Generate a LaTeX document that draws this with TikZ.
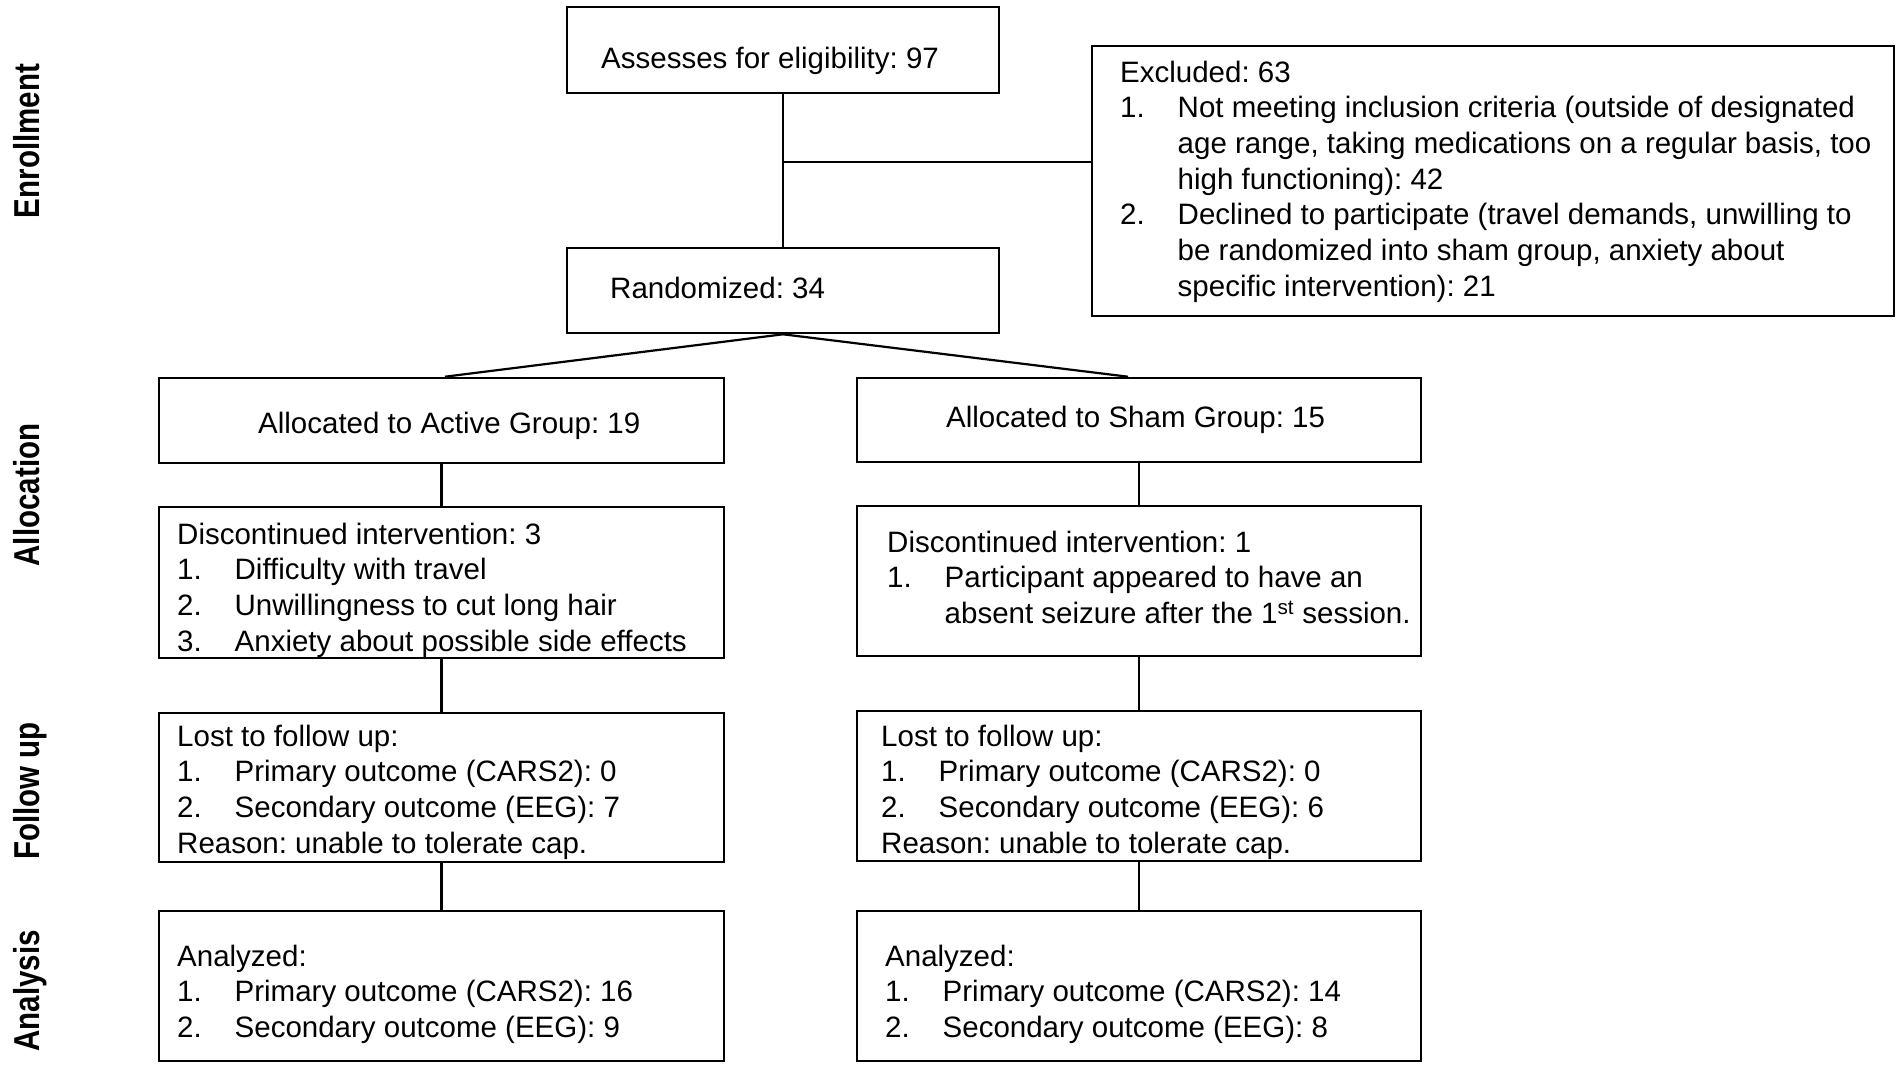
\documentclass[tikz,border=0pt]{standalone}
\usepackage{fontspec}
\setmainfont{Liberation Sans}
\frenchspacing
\newcommand{\itm}[2]{\makebox[57.5pt][l]{#1}#2}
\newcommand{\cnt}[1]{\hspace*{57.5pt}#1}
\begin{document}
\begin{tikzpicture}[x=1pt,y=-1pt,
  boxst/.style={draw, line width=2.6pt, rectangle, inner sep=0pt},
  txt/.style={font=\fontsize{29.5}{35.7}\selectfont\frenchspacing, inner sep=0pt, anchor=north west, align=left},
  conn/.style={line width=2.2pt},
  lbl/.style={font=\fontsize{29.5}{35}\selectfont\bfseries, inner sep=0pt, rotate=90, anchor=base}]
\useasboundingbox (0,0) rectangle (1901,1069);

% boxes
\node[boxst, minimum width=432pt, minimum height=86pt] (assess) at (783,50) {};
\node[boxst, minimum width=802pt, minimum height=270pt] (excl) at (1493,181) {};
\node[boxst, minimum width=432pt, minimum height=85pt] (rand) at (783,290.5) {};
\node[boxst, minimum width=565pt, minimum height=85pt] (active) at (441.5,420.5) {};
\node[boxst, minimum width=564pt, minimum height=84pt] (sham) at (1139,420) {};
\node[boxst, minimum width=565pt, minimum height=151pt] (discA) at (441.5,582.5) {};
\node[boxst, minimum width=564pt, minimum height=150pt] (discS) at (1139,581) {};
\node[boxst, minimum width=565pt, minimum height=149pt] (fuA) at (441.5,787.5) {};
\node[boxst, minimum width=564pt, minimum height=150pt] (fuS) at (1139,786) {};
\node[boxst, minimum width=565pt, minimum height=150pt] (anA) at (441.5,986) {};
\node[boxst, minimum width=564pt, minimum height=150pt] (anS) at (1139,986) {};

% texts
\node[txt] (tAssess) at (601,43) {\strut Assesses for eligibility: 97};
\node[txt] (tRand) at (610,273) {\strut Randomized: 34};
\node[txt] (tExcl) at (1120,57) {\strut Excluded: 63\\
\itm{1.}{Not meeting inclusion criteria (outside of designated}\\
\cnt{age range, taking medications on a regular basis, too}\\
\cnt{high functioning): 42}\\
\itm{2.}{Declined to participate (travel demands, unwilling to}\\
\cnt{be randomized into sham group, anxiety about}\\
\cnt{specific intervention): 21}};
\node[txt] (tActive) at (258,408) {\strut Allocated to Active Group: 19};
\node[txt] (tSham) at (946,402) {\strut Allocated to Sham Group: 15};
\node[txt] (tDiscA) at (177,519) {\strut Discontinued intervention: 3\\
\itm{1.}{Difficulty with travel}\\
\itm{2.}{Unwillingness to cut long hair}\\
\itm{3.}{Anxiety about possible side effects}};
\node[txt] (tDiscS) at (887,527) {\strut Discontinued intervention: 1\\
\itm{1.}{Participant appeared to have an}\\
\cnt{absent seizure after the 1\textsuperscript{st} session.}};
\node[txt] (tFuA) at (177,721) {\strut Lost to follow up:\\
\itm{1.}{Primary outcome (CARS2): 0}\\
\itm{2.}{Secondary outcome (EEG): 7}\\
Reason: unable to tolerate cap.};
\node[txt] (tFuS) at (881,721) {\strut Lost to follow up:\\
\itm{1.}{Primary outcome (CARS2): 0}\\
\itm{2.}{Secondary outcome (EEG): 6}\\
Reason: unable to tolerate cap.};
\node[txt] (tAnA) at (177,941) {\strut Analyzed:\\
\itm{1.}{Primary outcome (CARS2): 16}\\
\itm{2.}{Secondary outcome (EEG): 9}};
\node[txt] (tAnS) at (885,941) {\strut Analyzed:\\
\itm{1.}{Primary outcome (CARS2): 14}\\
\itm{2.}{Secondary outcome (EEG): 8}};

% side labels
\node[lbl] (lEnr) at (39,141) {\scalebox{1}[1.22]{Enrollment}};
\node[lbl] (lAll) at (39,495) {\scalebox{1}[1.22]{Allocation}};
\node[lbl] (lFol) at (39,791) {\scalebox{1}[1.22]{Follow up}};
\node[lbl] (lAna) at (39,991) {\scalebox{1}[1.22]{Analysis}};

% connectors
\draw[conn] (assess.south) -- (rand.north);
\coordinate (br) at (783,162);
\draw[conn] (br) -- (br -| excl.west);
\draw[conn] (rand.south) -- ([xshift=3.5pt]active.north);
\draw[conn] (rand.south) -- ([xshift=-11pt]sham.north);
\draw[conn] (active.south) -- (discA.north);
\draw[conn] (discA.south) -- (fuA.north);
\draw[conn] (fuA.south) -- (anA.north);
\draw[conn] (sham.south) -- (discS.north);
\draw[conn] (discS.south) -- (fuS.north);
\draw[conn] (fuS.south) -- (anS.north);
\end{tikzpicture}
\end{document}
